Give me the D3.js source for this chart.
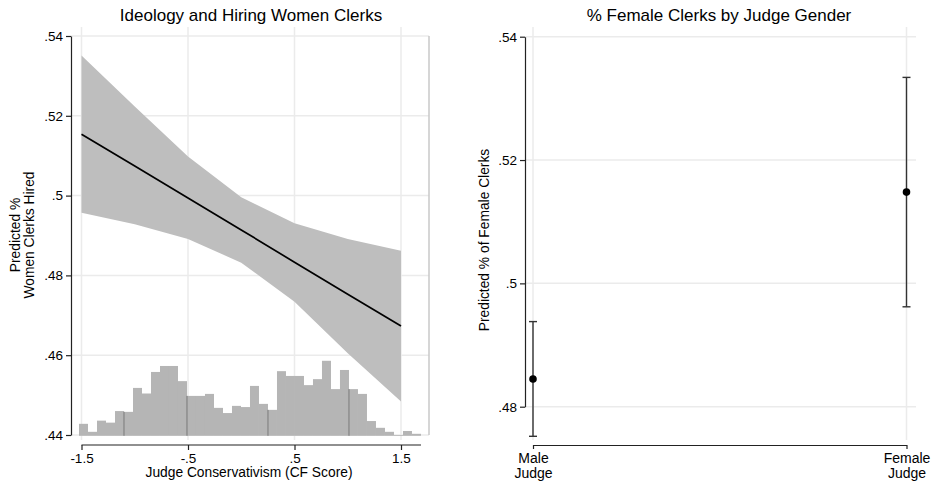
<!DOCTYPE html>
<html>
<head>
<meta charset="utf-8">
<script src="https://cdn.jsdelivr.net/npm/d3@7"></script>
<style>
  body { margin: 0; background: #fff; }
  svg { display: block; font-family: "Liberation Sans", Arial, sans-serif; }
</style>
</head>
<body>
<div id="chart"></div>
<script>
// == Left panel: predicted margins at CF score values
const cfPoints = [-1.5, -1, -0.5, 0, 0.5, 1, 1.5];
const cfFit    = [0.5154, 0.5074, 0.4994, 0.4914, 0.4833, 0.4753, 0.4673];
const cfUpper  = [0.5351, 0.5223, 0.5098, 0.4996, 0.4931, 0.4891, 0.4862];
const cfLower  = [0.4957, 0.4928, 0.4891, 0.4832, 0.4734, 0.4605, 0.4484];

// histogram of CF scores, bar tops read on the left axis (base = .44)
const histStart = -1.5235;
const histWidth = 0.0845;
const histTop = [0.4428, 0.4408, 0.4436, 0.4431, 0.4460, 0.4458, 0.4518, 0.4504,
                 0.4558, 0.4573, 0.4573, 0.4535, 0.4498, 0.4498, 0.4503, 0.4468,
                 0.4455, 0.4473, 0.4470, 0.4523, 0.4478, 0.4463, 0.4560, 0.4548,
                 0.4548, 0.4525, 0.4540, 0.4586, 0.4515, 0.4563, 0.4515, 0.4503,
                 0.4435, 0.4418, 0.4408, 0.4400, 0.4410, 0.4403];

const leftYTicks = [0.44, 0.46, 0.48, 0.50, 0.52, 0.54];
const leftXTicks = [-1.5, -0.5, 0.5, 1.5];

// == Right panel: predicted % by judge gender
const genders   = ["Male Judge", "Female Judge"];
const genderEst = [0.4845, 0.5148];
const genderLo  = [0.4752, 0.4962];
const genderHi  = [0.4938, 0.5334];
const rightYTicks = [0.48, 0.50, 0.52, 0.54];

const W = 931, H = 484;
const GRID = "#ebebeb";
// Stata style numbers: no leading zero, plain hyphen for minus
const fmt = d => (d < 0 ? "-" : "") + d3.format(".2~f")(Math.abs(d)).replace(/^0\./, ".");

const svg = d3.select("#chart").append("svg")
  .attr("width", W).attr("height", H);

// ---------------- left panel ----------------
const L = { left: 71, right: 429, top: 27, bottom: 440, axisY: 445 };
const x1 = d3.scaleLinear().domain([-1.5, 1.5]).range([81.5, 401]);
const y1 = d3.scaleLinear().domain([0.44, 0.54]).range([435, 36]);
const g1 = svg.append("g");

// grid
g1.selectAll(".hg").data(leftYTicks).enter().append("line")
  .attr("x1", L.left).attr("x2", L.right)
  .attr("y1", d => y1(d)).attr("y2", d => y1(d))
  .attr("stroke", GRID).attr("stroke-width", 1.5);
g1.selectAll(".vg").data(leftXTicks).enter().append("line")
  .attr("x1", d => x1(d)).attr("x2", d => x1(d))
  .attr("y1", L.top).attr("y2", L.bottom)
  .attr("stroke", GRID).attr("stroke-width", 1.5);

// secondary (histogram) axis line on the right
g1.append("line")
  .attr("x1", L.right).attr("x2", L.right)
  .attr("y1", y1(0.54)).attr("y2", y1(0.44))
  .attr("stroke", "#c8c8c8").attr("stroke-width", 1.5);

// histogram
const histBase = 0.4398;
g1.selectAll(".bar").data(histTop).enter().append("rect")
  .attr("x", (d, i) => x1(histStart + i * histWidth))
  .attr("width", x1(histWidth) - x1(0))
  .attr("y", d => y1(d))
  .attr("height", d => Math.max(0, y1(histBase) - y1(d)))
  .attr("fill", "#b5b5b5");
// a few darker bar edges as in the original rendering
[5, 12, 21, 30].forEach(i => {
  g1.append("line")
    .attr("x1", x1(histStart + i * histWidth)).attr("x2", x1(histStart + i * histWidth))
    .attr("y1", y1(histTop[i])).attr("y2", y1(histBase))
    .attr("stroke", "#7a7a7a").attr("stroke-width", 1);
});

// CI band
const band = d3.area()
  .x((d, i) => x1(cfPoints[i]))
  .y0((d, i) => y1(cfLower[i]))
  .y1((d, i) => y1(cfUpper[i]));
g1.append("path").datum(cfPoints).attr("d", band).attr("fill", "#bebebe");

// fit line
const fitLine = d3.line().x((d, i) => x1(cfPoints[i])).y(d => y1(d));
g1.append("path").datum(cfFit).attr("d", fitLine)
  .attr("fill", "none").attr("stroke", "#000").attr("stroke-width", 1.7);

// y axis
g1.append("g").attr("transform", `translate(${L.left},0)`)
  .call(d3.axisLeft(y1).tickValues(leftYTicks).tickFormat(fmt).tickSize(5).tickSizeOuter(0));
// x axis
const xAxis1 = g1.append("g").attr("transform", `translate(0,${L.axisY})`)
  .call(d3.axisBottom(x1).tickValues(leftXTicks).tickFormat(fmt).tickSize(5).tickSizeOuter(0));
xAxis1.select(".domain").attr("d", `M${x1(-1.5)},0H${x1(histStart + histTop.length * histWidth)}`);

g1.append("text").attr("x", 249).attr("y", 477).attr("text-anchor", "middle")
  .style("font-size", "13.8px").text("Judge Conservativism (CF Score)");
const yt1 = g1.append("text").attr("transform", `translate(0,235) rotate(-90)`)
  .attr("text-anchor", "middle").style("font-size", "13.8px");
yt1.append("tspan").attr("x", 0).attr("y", 20).text("Predicted %");
yt1.append("tspan").attr("x", 0).attr("y", 34).text("Women Clerks Hired");
g1.append("text").attr("x", 251).attr("y", 21).attr("text-anchor", "middle")
  .style("font-size", "17px").text("Ideology and Hiring Women Clerks");

// ---------------- right panel ----------------
const R = { left: 525, right: 916, top: 27, bottom: 440, axisY: 445 };
const x2 = d3.scalePoint().domain(genders).range([533, 906.5]);
const y2 = d3.scaleLinear().domain([0.48, 0.54]).range([406.7, 36.7]);
const g2 = svg.append("g");

g2.selectAll(".hg").data(rightYTicks).enter().append("line")
  .attr("x1", R.left).attr("x2", R.right)
  .attr("y1", d => y2(d)).attr("y2", d => y2(d))
  .attr("stroke", GRID).attr("stroke-width", 1.5);
g2.selectAll(".vg").data(genders).enter().append("line")
  .attr("x1", d => x2(d)).attr("x2", d => x2(d))
  .attr("y1", R.top).attr("y2", R.bottom)
  .attr("stroke", GRID).attr("stroke-width", 1.5);

// error bars
const cap = 4;
const eb = g2.selectAll(".eb").data(genders).enter().append("g");
eb.append("line")
  .attr("x1", d => x2(d)).attr("x2", d => x2(d))
  .attr("y1", (d, i) => y2(genderLo[i])).attr("y2", (d, i) => y2(genderHi[i]))
  .attr("stroke", "#333").attr("stroke-width", 1.4);
eb.append("line")
  .attr("x1", d => x2(d) - cap).attr("x2", d => x2(d) + cap)
  .attr("y1", (d, i) => y2(genderLo[i])).attr("y2", (d, i) => y2(genderLo[i]))
  .attr("stroke", "#333").attr("stroke-width", 1.4);
eb.append("line")
  .attr("x1", d => x2(d) - cap).attr("x2", d => x2(d) + cap)
  .attr("y1", (d, i) => y2(genderHi[i])).attr("y2", (d, i) => y2(genderHi[i]))
  .attr("stroke", "#333").attr("stroke-width", 1.4);
eb.append("circle")
  .attr("cx", d => x2(d)).attr("cy", (d, i) => y2(genderEst[i]))
  .attr("r", 3.8).attr("fill", "#000");

g2.append("g").attr("transform", `translate(${R.left},0)`)
  .call(d3.axisLeft(y2).tickValues(rightYTicks).tickFormat(fmt).tickSize(5).tickSizeOuter(0));
const xAxis2 = g2.append("g").attr("transform", `translate(0,${R.axisY})`)
  .call(d3.axisBottom(x2).tickSize(4).tickSizeOuter(0).tickFormat(""));

const yt2 = g2.append("text").attr("transform", `translate(0,240) rotate(-90)`)
  .attr("text-anchor", "middle").style("font-size", "13.8px");
yt2.append("tspan").attr("x", 0).attr("y", 489).text("Predicted % of Female Clerks");
g2.append("text").attr("x", 719).attr("y", 21).attr("text-anchor", "middle")
  .style("font-size", "17px").text("% Female Clerks by Judge Gender");

// shared axis styling
svg.selectAll(".tick text").style("font-size", "13.5px").attr("fill", "#000");
svg.selectAll(".domain").attr("stroke", "#222").attr("stroke-width", 1.2);
svg.selectAll(".tick line").attr("stroke", "#222").attr("stroke-width", 1.2);
svg.selectAll("g").attr("font-family", null);

// two-line category labels under the right x axis
xAxis2.selectAll(".tick").each(function (d) {
  const parts = d.split(" ");
  const t = d3.select(this).append("text").attr("fill", "#000")
    .attr("text-anchor", "middle").style("font-size", "14px");
  t.append("tspan").attr("x", 0).attr("y", 18).text(parts[0]);
  t.append("tspan").attr("x", 0).attr("y", 33).text(parts[1]);
});
</script>
</body>
</html>
